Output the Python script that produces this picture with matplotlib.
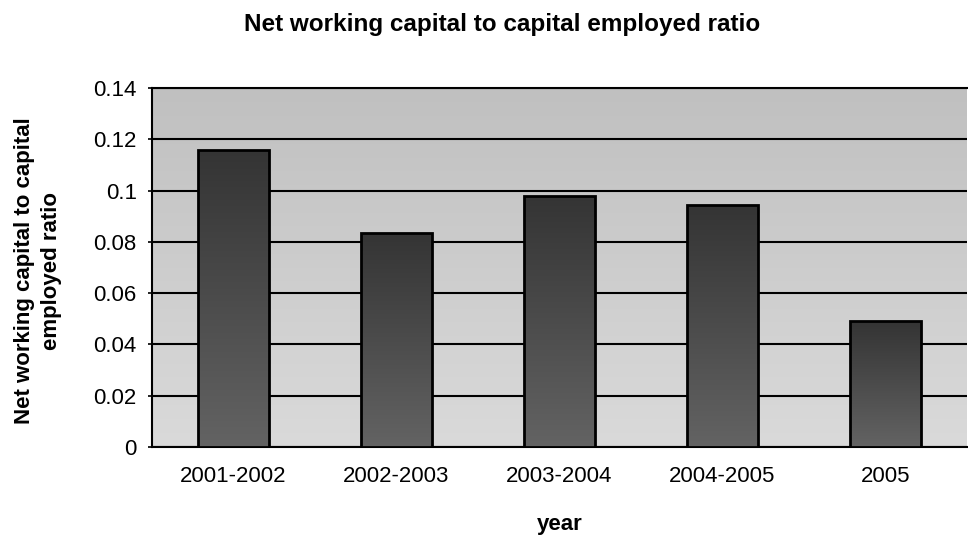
import matplotlib
matplotlib.use("Agg")
import matplotlib.pyplot as plt
import numpy as np
from matplotlib.colors import LinearSegmentedColormap

years = ["2001-2002", "2002-2003", "2003-2004", "2004-2005", "2005"]
ratios = [0.116, 0.0835, 0.098, 0.0945, 0.049]
yticks = [0, 0.02, 0.04, 0.06, 0.08, 0.1, 0.12, 0.14]
ytick_labels = ["0", "0.02", "0.04", "0.06", "0.08", "0.1", "0.12", "0.14"]

plt.rcParams["font.family"] = ["Liberation Sans", "DejaVu Sans"]

W, H = 968, 536
fig = plt.figure(figsize=(W / 100, H / 100), dpi=100)
fig.patch.set_facecolor("white")
ax = fig.add_axes([152 / W, 1 - 447 / H, 815 / W, (447 - 88) / H])

ax.set_ylim(0, 0.14)
ax.set_xlim(-0.5, len(years) - 0.5)

# plot-area background: soft vertical gradient of gray
bg_cmap = LinearSegmentedColormap.from_list("bg", ["#dadada", "#c0c0c0"])
grad = np.linspace(0, 1, 256).reshape(-1, 1)
ax.imshow(grad, cmap=bg_cmap, aspect="auto", origin="lower",
          extent=[-0.5, len(years) - 0.5, 0, 0.14], zorder=0)

x = np.arange(len(years))
bars = ax.bar(x, ratios, width=0.43, facecolor="none", edgecolor="black",
              linewidth=2.0, zorder=4)

# dark gradient fill inside each bar
bar_cmap = LinearSegmentedColormap.from_list("barfill", ["#636363", "#343434"])
for b in bars:
    x0, w, h = b.get_x(), b.get_width(), b.get_height()
    im = ax.imshow(grad, cmap=bar_cmap, aspect="auto", origin="lower",
                   extent=[x0, x0 + w, 0, h], zorder=3)
    im.set_clip_path(b)

ax.set_yticks(yticks)
ax.set_yticklabels(ytick_labels, fontsize=16)
ax.set_xticks(x)
ax.set_xticklabels(years, fontsize=16)
ax.tick_params(axis="x", length=0, pad=14)
ax.tick_params(axis="y", length=3, direction="out", pad=8, width=1.2)
ax.yaxis.grid(True, color="black", linewidth=1.5, zorder=1)
ax.set_axisbelow(True)

for side in ["left", "bottom", "top"]:
    ax.spines[side].set_color("black")
    ax.spines[side].set_linewidth(1.5)
ax.spines["right"].set_visible(False)

ax.set_xlabel("year", fontsize=16, fontweight="bold", labelpad=19)
ax.set_ylabel("Net working capital to capital\nemployed ratio", fontsize=16,
              fontweight="bold", linespacing=1.4)
ax.yaxis.set_label_coords(-0.110, 0.49)

fig.text(502 / W, 1 - 31 / H, "Net working capital to capital employed ratio",
         ha="center", va="baseline", fontsize=17.5, fontweight="bold")

fig.savefig("out.png", dpi=100)
